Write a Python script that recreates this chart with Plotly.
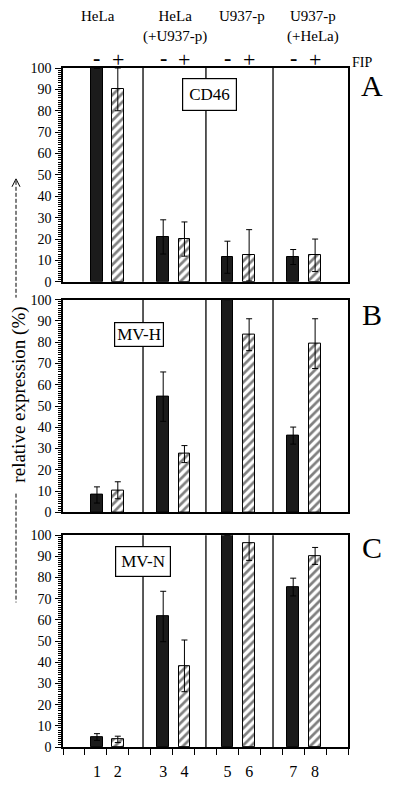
import plotly.graph_objects as go

# ---------------- data ----------------
lane_labels = ["1", "2", "3", "4", "5", "6", "7", "8"]
lane_pos = [1.55, 2.5, 4.57, 5.54, 7.5, 8.49, 10.5, 11.5]
fip_signs = ["-", "+", "-", "+", "-", "+", "-", "+"]
group_names = ["HeLa", "HeLa<br>(+U937-p)", "U937-p", "U937-p<br>(+HeLa)"]
panel_names = ["CD46", "MV-H", "MV-N"]
panel_letters = ["A", "B", "C"]

cd46_vals = [100, 90, 21, 20, 11.5, 12.4, 11.6, 12.4]
cd46_err = [0, 10, 8, 8, 7.5, 12, 3.5, 7.6]
mvh_vals = [8.2, 10.4, 54.4, 27.4, 100, 83.5, 36.1, 79.3]
mvh_err = [3.8, 4, 11.6, 4, 0, 7.5, 4, 11.7]
mvn_vals = [4.7, 3.6, 61.6, 38.3, 100, 96.1, 75.5, 90.2]
mvn_err = [1.6, 1.5, 11.9, 12.2, 0, 8, 4.2, 4]
panels_vals = [cd46_vals, mvh_vals, mvn_vals]
panels_err = [cd46_err, mvh_err, mvn_err]

# ---------------- layout constants ----------------
divider_x = [3.65, 6.52, 9.58]
group_x = [1.6, 5.1, 8.17, 11.4]
y_domains = [[0.6851, 1.0], [0.3455, 0.6589], [0.0, 0.3120]]
box_pos = [(6.7, 87.4, 6), (3.47, 83.7, 2), (3.65, 87.4, 5)]
letter_y = [(754 - 86) / 686, (754 - 317) / 686, (754 - 552) / 686]

SERIF = "Liberation Serif"
BLACK = "#1b1b1b"

fig = go.Figure()

for i in range(3):
    vals = panels_vals[i]
    errs = panels_err[i]
    xa = "x" if i == 0 else f"x{i+1}"
    ya = "y" if i == 0 else f"y{i+1}"
    fig.add_trace(go.Bar(
        x=[lane_pos[k] for k in range(0, 8, 2)],
        y=[vals[k] for k in range(0, 8, 2)],
        error_y=dict(type="data", array=[errs[k] for k in range(0, 8, 2)],
                     color="black", thickness=1, width=3),
        width=0.52, marker=dict(color=BLACK, line=dict(color="black", width=1)),
        xaxis=xa, yaxis=ya, showlegend=False, cliponaxis=False,
    ))
    fig.add_trace(go.Bar(
        x=[lane_pos[k] for k in range(1, 8, 2)],
        y=[vals[k] for k in range(1, 8, 2)],
        error_y=dict(type="data", array=[errs[k] for k in range(1, 8, 2)],
                     color="black", thickness=1, width=3),
        width=0.52,
        marker=dict(color="white", line=dict(color="black", width=1),
                    pattern=dict(shape="/", fgcolor="black", bgcolor="white",
                                 size=6, solidity=0.45)),
        xaxis=xa, yaxis=ya, showlegend=False, cliponaxis=False,
    ))

layout = dict(
    width=400, height=792,
    margin=dict(l=63, r=52, t=68, b=38),
    paper_bgcolor="white", plot_bgcolor="white",
    font=dict(family=SERIF, color="black", size=14),
    bargap=0, showlegend=False,
)

for i in range(3):
    xk = "xaxis" if i == 0 else f"xaxis{i+1}"
    yk = "yaxis" if i == 0 else f"yaxis{i+1}"
    ya = "y" if i == 0 else f"y{i+1}"
    xa = "x" if i == 0 else f"x{i+1}"
    bottom = (i == 2)
    xax = dict(
        range=[0, 13], domain=[0, 1], anchor=ya,
        showline=True, linecolor="black", linewidth=1.5, mirror=True,
        showgrid=False, zeroline=False, fixedrange=True,
    )
    if bottom:
        xax.update(tickmode="array", tickvals=lane_pos, ticktext=lane_labels,
                   ticks="", showticklabels=True,
                   tickfont=dict(family=SERIF, size=16),
                   ticklabelstandoff=9,
                   minor=dict(tickmode="linear", tick0=0, dtick=1, ticks="outside",
                              ticklen=6, tickwidth=1.2, tickcolor="black"))
    else:
        xax.update(showticklabels=False, ticks="")
    if i > 0:
        xax["matches"] = "x"
    layout[xk] = xax
    layout[yk] = dict(
        range=[0, 100], domain=y_domains[i], anchor=xa,
        tickmode="array", tickvals=list(range(0, 101, 10)),
        ticks="outside", ticklen=6, tickwidth=1.2, tickcolor="black",
        minor=dict(tickmode="linear", tick0=0, dtick=1, ticks="outside",
                   ticklen=3, tickwidth=1, tickcolor="black"),
        showline=True, linecolor="black", linewidth=1.5, mirror=True,
        showgrid=False, zeroline=False, fixedrange=True,
        tickfont=dict(family=SERIF, size=14), ticklabelstandoff=1,
    )

fig.update_layout(**layout)

shapes = []
annotations = []
for i in range(3):
    xa = "x" if i == 0 else f"x{i+1}"
    ya = "y" if i == 0 else f"y{i+1}"
    for dx in divider_x:
        shapes.append(dict(type="line", xref=xa, yref=f"{ya} domain",
                           x0=dx, x1=dx, y0=0, y1=1,
                           line=dict(color="black", width=1.3), layer="below"))
    bx, by, bp = box_pos[i]
    annotations.append(dict(text=panel_names[i], xref=xa, yref=ya, x=bx, y=by,
                            xanchor="center", yanchor="middle",
                            showarrow=False, bgcolor="white", bordercolor="black",
                            borderwidth=1.2, borderpad=bp,
                            font=dict(family=SERIF, size=17)))
    annotations.append(dict(text=panel_letters[i], xref="paper", yref="paper",
                            x=(372 - 63) / 285, y=letter_y[i], showarrow=False,
                            xanchor="center", yanchor="middle",
                            font=dict(family=SERIF, size=30)))

# header
for gx, gn in zip(group_x, group_names):
    annotations.append(dict(text=gn, xref="x", yref="paper", x=gx,
                            y=(754 - 5) / 686, xanchor="center", yanchor="top",
                            showarrow=False, font=dict(family=SERIF, size=15)))
for px_, s in zip(lane_pos, fip_signs):
    ypix = 57 if s == "-" else 59
    annotations.append(dict(text=f"<b>{s}</b>" if s == "-" else s, xref="x", yref="paper",
                            x=px_, y=(754 - ypix) / 686, xanchor="center", yanchor="middle",
                            showarrow=False, font=dict(family=SERIF, size=22)))
annotations.append(dict(text="FIP", xref="paper", yref="paper", x=(362 - 63) / 285,
                        y=(754 - 62) / 686, xanchor="center", yanchor="middle",
                        showarrow=False, font=dict(family=SERIF, size=14)))

# y title with dashed arrow
annotations.append(dict(text="relative expression (%)", xref="paper", yref="paper",
                        x=(19 - 63) / 285, y=(754 - 398) / 686, textangle=-90,
                        xanchor="center", yanchor="middle",
                        showarrow=False, font=dict(family=SERIF, size=19)))
ax_ = (16 - 63) / 285


def py(p):
    return (754 - p) / 686


shapes.append(dict(type="line", xref="paper", yref="paper", x0=ax_, x1=ax_,
                   y0=py(182), y1=py(300), line=dict(color="black", width=1, dash="4px,2px")))
shapes.append(dict(type="line", xref="paper", yref="paper", x0=ax_, x1=ax_,
                   y0=py(498), y1=py(608), line=dict(color="black", width=1, dash="4px,2px")))
shapes.append(dict(type="path", xref="paper", yref="paper",
                   path=f"M {(12-63)/285} {py(188)} L {ax_} {py(180)} L {(20-63)/285} {py(188)}",
                   line=dict(color="black", width=1)))

fig.update_layout(shapes=shapes, annotations=annotations)
fig.write_html("out.html", post_script="document.body.style.margin='0';",
               config={"displayModeBar": False})
